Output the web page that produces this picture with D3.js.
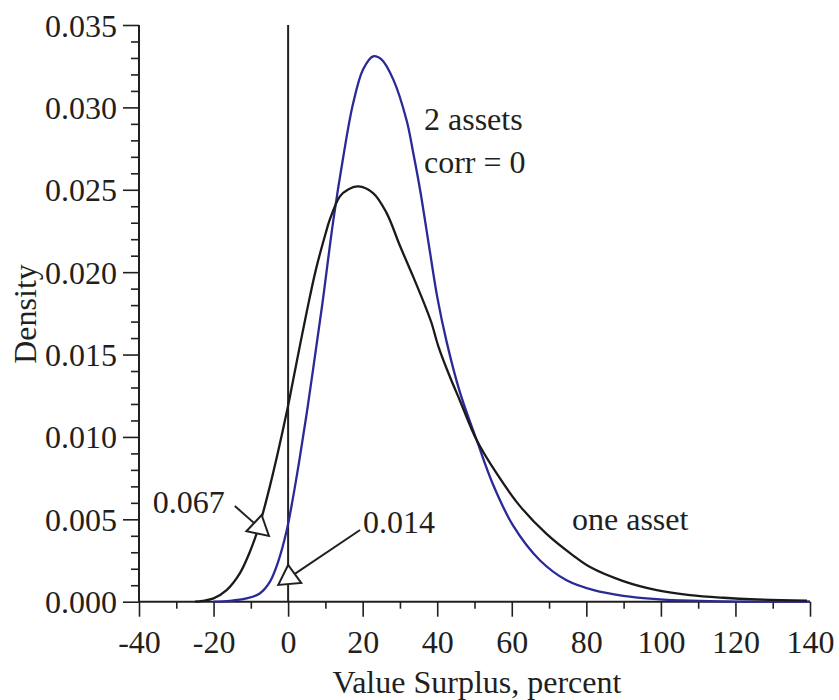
<!DOCTYPE html>
<html>
<head>
<meta charset="utf-8">
<script src="https://cdn.jsdelivr.net/npm/d3@7/dist/d3.min.js"></script>
<style>
  html, body { margin: 0; padding: 0; background: #fff; }
  svg text { font-family: "Liberation Serif", "Times New Roman", serif; fill: #231f20; }
</style>
</head>
<body>
<svg id="chart" width="839" height="700"></svg>
<script>
// Density of value surplus (percent), one asset vs two uncorrelated assets
const oneAssetX = [-25, -23, -20, -16.5, -13, -10.3, -8.5, -7.1, -4.9, -2.7, 0, 1.3, 5, 7.5, 10, 11.2, 13.9, 16, 18.8, 22.8, 26.4, 30, 33.6, 37.2, 38.5, 40.3, 43.4, 46.1, 50.6, 55.9, 62.2, 69.4, 76.5, 81, 89.9, 98.9, 107.8, 116.8, 125.7, 139.2];
const oneAssetY = [0, 0.00005, 0.0002, 0.0007, 0.0017, 0.0030, 0.0041, 0.0051, 0.0070, 0.0091, 0.0119, 0.0134, 0.0176, 0.0202, 0.0223, 0.0232, 0.0246, 0.0250, 0.0252, 0.0248, 0.0236, 0.0216, 0.0197, 0.0177, 0.0169, 0.0155, 0.01365, 0.0122, 0.0098, 0.0078, 0.0058, 0.0041, 0.0028, 0.0021, 0.00125, 0.0007, 0.0004, 0.00024, 0.00014, 0.00006];

const twoAssetsX = [-20, -15.6, -11.2, -7.6, -4.9, -2.7, -0.4, 1.3, 3.1, 4.9, 6.7, 9.2, 12.1, 14.8, 17.4, 20.1, 22.8, 25.1, 28.2, 31.8, 33.6, 35.4, 38, 40, 42.5, 46.1, 50.6, 55, 60.4, 67.6, 74.7, 82, 89.9, 98.9, 108, 120, 140];
const twoAssetsY = [0, 0.00005, 0.0002, 0.0005, 0.0012, 0.0024, 0.0043, 0.0063, 0.0087, 0.0113, 0.0141, 0.0181, 0.0231, 0.0270, 0.0302, 0.0323, 0.0331, 0.0329, 0.0317, 0.0292, 0.0272, 0.0250, 0.0213, 0.0185, 0.0158, 0.0127, 0.0098, 0.0071, 0.0046, 0.0025, 0.0013, 0.0007, 0.00036, 0.00016, 0.00006, 0.00001, 0];

const xMajorTicks = [-40, -20, 0, 20, 40, 60, 80, 100, 120, 140];
const xMinorTicks = [-30, -10, 10, 30, 50, 70, 90, 110, 130];
const yMajorTicks = [0, 0.005, 0.010, 0.015, 0.020, 0.025, 0.030, 0.035];
const yMinorTicks = d3.range(1, 35).filter(i => i % 5 !== 0).map(i => i / 1000);

// Tail probabilities below zero, pointed at the curves
const notes = [
  { text: "0.067", tipX: -7.1, tipY: 0.00526, fromX: -14.3, fromY: 0.00581, textX: -17.0, textY: 0.00536, anchor: "end", rot: 12 },
  { text: "0.014", tipX: 0, tipY: 0.00223, fromX: 19.3, fromY: 0.00435, textX: 20.1, textY: 0.00414, anchor: "start", rot: -5 }
];

const svg = d3.select("#chart");
const x = d3.scaleLinear().domain([-40, 140]).range([139, 810]);
const y = d3.scaleLinear().domain([0, 0.035]).range([601.7, 25]);
const ink = "#231f20";
const fs = 32;

// y axis: major ticks with labels, minor ticks without
const yMajor = svg.append("g").attr("transform", `translate(${x(-40)},0)`)
  .call(d3.axisLeft(y).tickValues(yMajorTicks).tickSize(16).tickFormat(d3.format(".3f")));
const yMinor = svg.append("g").attr("transform", `translate(${x(-40)},0)`)
  .call(d3.axisLeft(y).tickValues(yMinorTicks).tickSize(8).tickFormat(""));
yMinor.select(".domain").remove();

// x axis
const xMajor = svg.append("g").attr("transform", `translate(0,${y(0)})`)
  .call(d3.axisBottom(x).tickValues(xMajorTicks).tickSize(15).tickFormat(d => d3.format("d")(d).replace("−", "-")));
const xMinor = svg.append("g").attr("transform", `translate(0,${y(0)})`)
  .call(d3.axisBottom(x).tickValues(xMinorTicks).tickSize(7).tickFormat(""));
xMinor.select(".domain").remove();

[yMajor, yMinor, xMajor, xMinor].forEach(g => {
  g.selectAll(".domain").attr("stroke", ink).attr("stroke-width", 2);
  g.selectAll(".tick line").attr("stroke", ink).attr("stroke-width", 1.6);
});
yMajor.select(".domain").attr("d", `M0,${y(0.035)}V${y(0)}`);
xMajor.select(".domain").attr("d", `M${x(-40)},0H${x(140)}`);

yMajor.selectAll(".tick text")
  .attr("font-family", "Liberation Serif").attr("font-size", fs)
  .attr("fill", ink).attr("x", -22).attr("dy", 11);
xMajor.selectAll(".tick text")
  .attr("font-family", "Liberation Serif").attr("font-size", fs)
  .attr("fill", ink).attr("y", 28).attr("dy", 23);

// vertical reference line at zero surplus
svg.append("line")
  .attr("x1", x(0)).attr("x2", x(0))
  .attr("y1", y(0.035)).attr("y2", y(0))
  .attr("stroke", ink).attr("stroke-width", 2);

// density curves
const line = d3.line().x(d => x(d[0])).y(d => y(d[1])).curve(d3.curveCatmullRom.alpha(0.5));
svg.append("path")
  .datum(twoAssetsX.map((v, i) => [v, twoAssetsY[i]]))
  .attr("fill", "none").attr("stroke", "#2a2a96").attr("stroke-width", 2.3)
  .attr("d", line);
svg.append("path")
  .datum(oneAssetX.map((v, i) => [v, oneAssetY[i]]))
  .attr("fill", "none").attr("stroke", "#1a1a1a").attr("stroke-width", 2.3)
  .attr("d", line);

// annotations with open triangular arrowheads
notes.forEach(n => {
  const tx = x(n.tipX), ty = y(n.tipY);
  const a = n.rot * Math.PI / 180;
  const rotPt = (px, py) => [tx + px * Math.cos(a) - py * Math.sin(a), ty + px * Math.sin(a) + py * Math.cos(a)];
  const p1 = rotPt(-11.5, 19), p2 = rotPt(11.5, 19);
  const cx = (tx + p1[0] + p2[0]) / 3, cy = (ty + p1[1] + p2[1]) / 3;
  svg.append("line")
    .attr("x1", x(n.fromX)).attr("y1", y(n.fromY))
    .attr("x2", cx).attr("y2", cy)
    .attr("stroke", ink).attr("stroke-width", 2);
  svg.append("path")
    .attr("d", `M${tx},${ty}L${p1[0]},${p1[1]}L${p2[0]},${p2[1]}Z`)
    .attr("fill", "#fff").attr("stroke", ink).attr("stroke-width", 2)
    .attr("stroke-linejoin", "miter");
  svg.append("text")
    .attr("x", x(n.textX)).attr("y", y(n.textY))
    .attr("text-anchor", n.anchor).attr("font-size", fs)
    .text(n.text);
});

// curve labels
svg.append("text").attr("x", 424).attr("y", 130).attr("font-size", fs).text("2 assets");
svg.append("text").attr("x", 424).attr("y", 173).attr("font-size", fs).text("corr = 0");
svg.append("text").attr("x", 572).attr("y", 530).attr("font-size", fs).text("one asset");

// axis titles
svg.append("text")
  .attr("x", 477).attr("y", 693).attr("text-anchor", "middle").attr("font-size", fs)
  .text("Value Surplus, percent");
svg.append("text")
  .attr("transform", "translate(36,314) rotate(-90)")
  .attr("text-anchor", "middle").attr("font-size", fs)
  .text("Density");
</script>
</body>
</html>
